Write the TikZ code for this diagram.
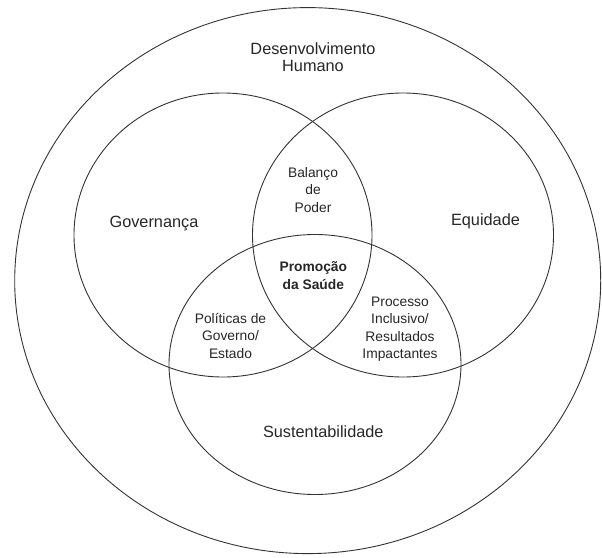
\documentclass[tikz,border=0pt]{standalone}
\usepackage{fontspec}
\setmainfont{Liberation Sans}
\usetikzlibrary{shapes.geometric}

\begin{document}
\begin{tikzpicture}[x=1pt, y=-1pt,
        venn/.style={ellipse, draw=black!80, line width=0.9pt, inner sep=0pt},
        biglabel/.style={font=\fontsize{16.3}{17.6}\selectfont, text=black!85, align=center, inner sep=0pt},
        smalllabel/.style={font=\fontsize{13.8}{17.4}\selectfont, text=black!85, align=center, inner sep=0pt}]
        \useasboundingbox (0,0) rectangle (602,557);

        % the sets
        \node[venn, minimum width=586pt, minimum height=546pt] (dh) at (307.7,280.6) {};
        \node[venn, minimum width=298pt, minimum height=284pt] (gov) at (223,235) {};
        \node[venn, minimum width=301pt, minimum height=284pt] (eq) at (403,235) {};
        \node[venn, minimum width=292pt, minimum height=260pt] (sus) at (315,364.5) {};

        % names of the sets
        \node[biglabel] (dhname) at (313,57) {Desenvolvimento\\Humano};
        \node[biglabel, anchor=base] (govname) at (154,227.3) {Governança};
        \node[biglabel, anchor=base] (eqname) at (485.5,225) {Equidade};
        \node[biglabel, anchor=base] (susname) at (323.3,437.3) {Sustentabilidade};

        % the overlaps
        \node[smalllabel] (balanco) at (313,190) {Balanço\\de\\Poder};
        \node[smalllabel] (politicas) at (230.5,335.7) {Políticas de\\Governo/\\Estado};
        \node[smalllabel] (processo) at (400,329) {Processo\\Inclusivo/\\Resultados\\Impactantes};
        \node[smalllabel, font=\fontsize{13.8}{17.4}\selectfont\bfseries] (promocao) at (313.3,275.4) {Promoção\\da Saúde};
\end{tikzpicture}
\end{document}
